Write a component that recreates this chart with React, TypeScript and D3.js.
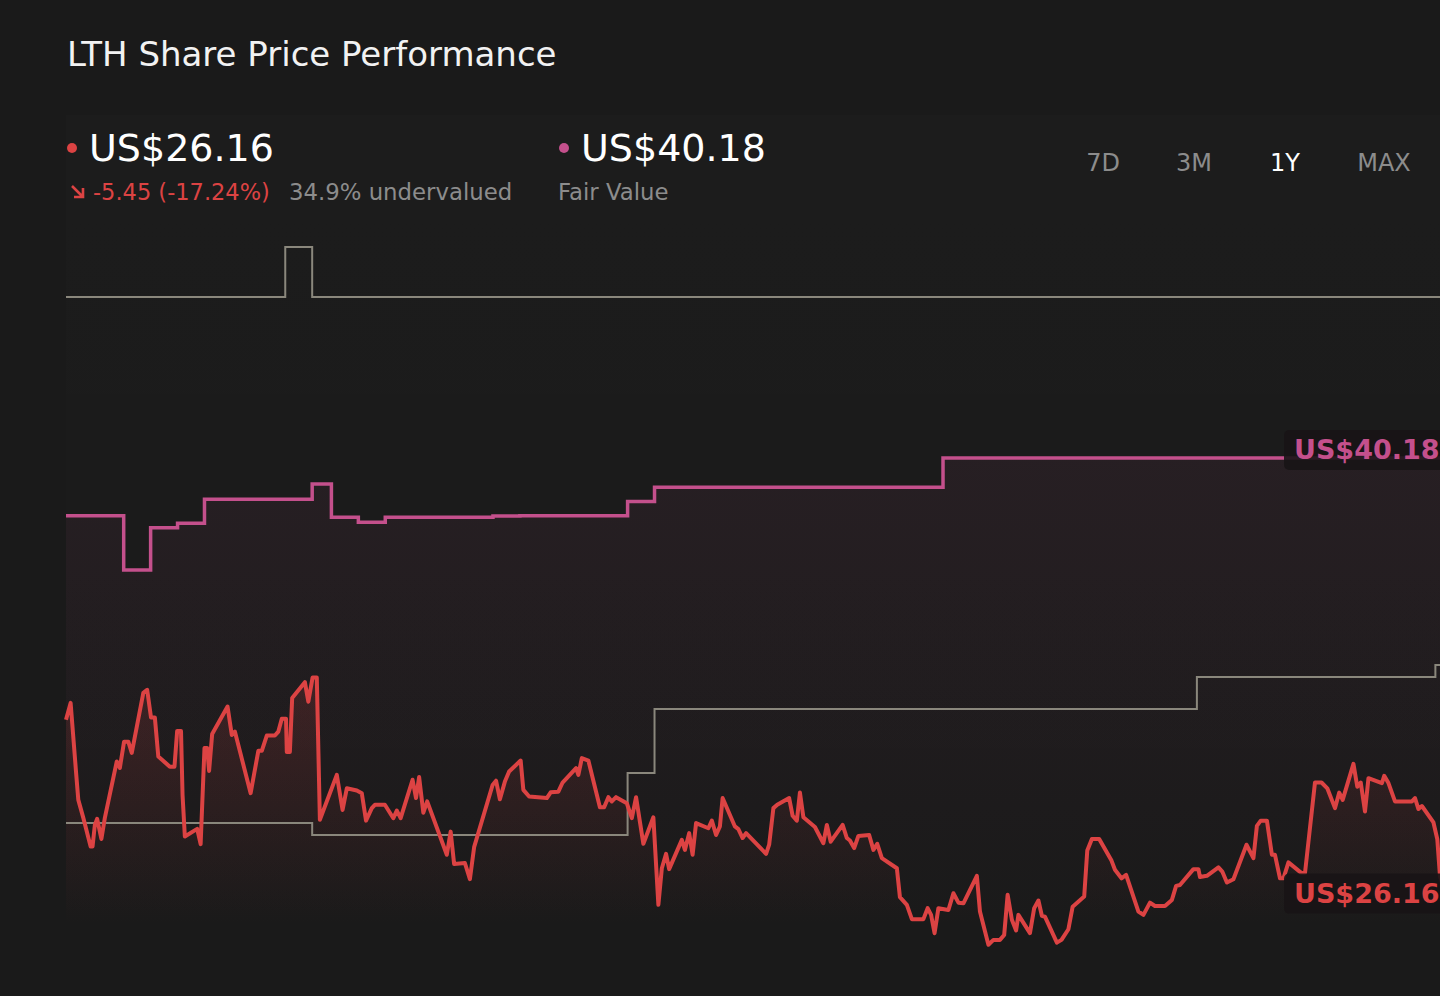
import * as d3 from "d3";

// price history, x in days since start of the 1Y window
const priceDays = [
  0, 1.2, 2.6, 3.2, 4.5, 6.4, 6.9, 7.5, 8.1, 9.2, 10.1, 13.2, 14.0, 15.1, 16.2, 17.1, 20.1, 21.1, 22.1, 23.1,
  24.0, 27.0, 28.2, 28.9, 29.9, 30.3, 30.9, 34.1, 35.0, 36.0, 36.7, 37.2, 38.0, 42.0, 43.1, 43.9, 48.0, 50.0,
  50.9, 52.2, 54.3, 55.2, 56.1, 57.2, 57.4, 58.2, 58.8, 62.1, 63.0, 64.1, 65.2, 66.0, 70.4, 71.9, 73.0, 75.6,
  76.9, 78.0, 79.5, 80.3, 82.9, 85.1, 86.0, 87.0, 90.1, 91.0, 91.8, 92.9, 93.9, 99.0, 100.0, 100.9, 103.7,
  105.0, 106.1, 110.9, 111.8, 112.8, 114.1, 115.2, 118.2, 118.9, 120.4, 125.0, 126.0, 128.0, 129.1, 132.6,
  133.2, 134.1, 135.8, 138.8, 139.9, 141.0, 141.9, 143.0, 145.8, 147.1, 148.2, 150.1, 152.7, 154.0, 154.9,
  156.0, 156.8, 160.1, 160.9, 162.0, 162.9, 163.8, 167.0, 167.9, 169.0, 170.0, 170.7, 173.9, 174.8, 175.9,
  176.8, 182.0, 182.8, 183.9, 184.9, 188.0, 188.9, 190.0, 190.8, 191.7, 194.7, 196.9, 197.8, 198.8, 201.9,
  203.0, 203.8, 204.9, 206.0, 208.8, 209.9, 210.9, 212.1, 216.0, 216.8, 218.6, 219.9, 222.9, 224.0, 224.9,
  225.8, 226.8, 229.4, 230.7, 232.0, 233.3, 236.8, 237.6, 239.8, 241.1, 242.8, 243.9, 244.8, 245.9, 247.0,
  247.6, 250.6, 251.7, 252.8, 253.7, 254.5, 257.6, 258.8, 260.6, 261.7, 264.7, 265.5, 266.7, 268.6, 271.8,
  272.7, 274.4, 275.6, 278.8, 280.1, 281.8, 283.1, 285.7, 287.5, 288.6, 289.6, 293.1, 294.4, 294.8, 296.6,
  299.6, 300.6, 301.8, 303.5, 306.9, 308.7, 309.6, 310.6, 312.2, 313.5, 314.3, 315.6, 316.5, 317.8, 321.2,
  322.1, 324.7, 326.4, 327.9, 329.9, 331.0, 331.9, 334.7, 335.7, 336.6, 337.7, 338.6, 342.1, 342.7, 343.8,
  345.5, 349.9, 350.7, 351.6, 352.5, 355.5, 356.5, 357.2, 358.0,
];
const priceValues = [
  31.6, 32.15, 29.9, 28.97, 28.38, 27.44, 27.44, 28.15, 28.35, 27.69, 28.38, 30.23, 30.02, 30.88, 30.88, 30.51,
  32.48, 32.58, 31.67, 31.67, 30.39, 30.06, 30.06, 31.23, 31.23, 29.13, 27.77, 28.02, 27.52, 30.67, 30.67,
  29.92, 31.13, 32.03, 31.1, 31.21, 29.19, 30.58, 30.58, 31.08, 31.08, 31.21, 31.63, 31.63, 30.54, 30.54,
  32.31, 32.83, 32.19, 32.98, 32.98, 28.32, 29.79, 28.64, 29.35, 29.28, 29.19, 28.29, 28.7, 28.81, 28.81,
  28.37, 28.62, 28.37, 29.63, 29.03, 29.72, 28.55, 28.92, 27.17, 27.93, 26.87, 26.9, 26.37, 27.42, 29.46,
  29.6, 28.99, 29.57, 29.9, 30.26, 29.3, 29.08, 29.03, 29.22, 29.24, 29.54, 30.01, 29.79, 30.34, 30.26,
  28.73, 28.73, 29.06, 28.92, 29.06, 28.86, 28.37, 29.06, 27.53, 28.4, 25.53, 26.73, 27.2, 26.7, 27.66,
  27.33, 27.88, 27.17, 28.21, 28.04, 28.29, 27.82, 28.1, 29.03, 28.1, 28.01, 27.72, 27.88, 27.2, 27.5,
  28.7, 28.81, 29.03, 28.45, 28.29, 29.21, 28.4, 28.08, 27.55, 28.15, 27.6, 28.15, 27.72, 27.64, 27.39,
  27.79, 27.82, 27.33, 27.53, 27.06, 26.73, 25.78, 25.53, 25.06, 25.06, 25.42, 25.2, 24.6, 25.42, 25.36,
  25.91, 25.6, 25.58, 26.48, 25.31, 24.22, 24.38, 24.38, 24.54, 25.86, 25.04, 24.69, 25.2, 24.6, 25.42,
  25.67, 25.17, 25.14, 24.29, 24.38, 24.73, 25.47, 25.8, 27.31, 27.69, 27.69, 26.98, 26.68, 26.4, 26.51,
  25.31, 25.2, 25.6, 25.49, 25.49, 25.69, 26.15, 26.18, 26.7, 26.7, 26.44, 26.48, 26.76, 26.62, 26.26,
  26.37, 27.5, 27.06, 28.12, 28.29, 28.29, 27.17, 27.17, 26.4, 26.4, 26.92, 26.57, 26.57, 29.54, 29.54,
  29.35, 28.7, 29.21, 28.97, 30.15, 29.4, 29.54, 28.59, 29.68, 29.52, 29.76, 29.52, 28.92, 28.92, 29.03,
  28.67, 28.77, 28.23, 27.68, 26.46, 26.16,
];

// fair value estimate (step changes)
const fairDays = [0, 15, 22, 29, 36, 64, 69, 76, 83, 111, 118, 146, 153, 228, 365];
const fairValues = [38.29, 36.51, 37.89, 38.04, 38.83, 39.33, 38.24, 38.07, 38.24, 38.28, 38.29, 38.75, 39.22, 40.18, 40.18];

// grey reference lines
const upperDays = [0, 57, 64, 365];
const upperValues = [45.46, 47.1, 45.46, 45.46];
const lowerDays = [0, 64, 146, 153, 294, 356, 365];
const lowerValues = [28.21, 27.82, 29.85, 31.95, 33.0, 33.39, 33.39];

const periods = ["7D", "3M", "1Y", "MAX"];
const periodCenters = [1103, 1194, 1285, 1384];
const activePeriod = "1Y";

const lastPrice = 26.16;
const fairValue = 40.18;
const change = -5.45;
const changePct = -17.24;
const undervalued = 34.9;

const W = 1440;
const H = 996;
const RED = "#dc4343";
const PINK = "#c4508c";
const GREY = "#8a877c";
const MUTED = "#8c8c8c";
const FONT = "'DejaVu Sans', sans-serif";

type Pt = { d: number; v: number };
const zip = (ds: number[], vs: number[]): Pt[] => ds.map((d, i) => ({ d, v: vs[i] }));

const App = () => {
  const x = d3.scaleLinear().domain([0, 365]).range([66, 1470]);
  const y = d3.scaleLinear().domain([lastPrice, fairValue]).range([885.6, 458]);
  const bottom = 960;

  const price = zip(priceDays, priceValues);
  const fair = zip(fairDays, fairValues);
  const upper = zip(upperDays, upperValues);
  const lower = zip(lowerDays, lowerValues);

  const line = d3.line<Pt>().x((p) => x(p.d)).y((p) => y(p.v));
  const step = d3.line<Pt>().x((p) => x(p.d)).y((p) => y(p.v)).curve(d3.curveStepAfter);
  const area = d3.area<Pt>().x((p) => x(p.d)).y0(bottom).y1((p) => y(p.v));
  const stepArea = d3.area<Pt>().x((p) => x(p.d)).y0(bottom).y1((p) => y(p.v)).curve(d3.curveStepAfter);

  const fmt = (n: number) => n.toFixed(2);

  return (
    <svg width={W} height={H} style={{ position: "absolute", left: 0, top: 0, display: "block" }} fontFamily={FONT}>
      <defs>
        <linearGradient id="panel" gradientUnits="userSpaceOnUse" x1="0" y1="115" x2="0" y2="925">
          <stop offset="0" stopColor="#ffffff" stopOpacity={0.01} />
          <stop offset="1" stopColor="#ffffff" stopOpacity={0} />
        </linearGradient>
        <linearGradient id="redFill" gradientUnits="userSpaceOnUse" x1="0" y1={y(33)} x2="0" y2="925">
          <stop offset="0" stopColor={RED} stopOpacity={0.16} />
          <stop offset="1" stopColor={RED} stopOpacity={0} />
        </linearGradient>
        <linearGradient id="pinkFill" gradientUnits="userSpaceOnUse" x1="0" y1={y(fairValue)} x2="0" y2="925">
          <stop offset="0" stopColor={PINK} stopOpacity={0.07} />
          <stop offset="1" stopColor={PINK} stopOpacity={0} />
        </linearGradient>
      </defs>
      <rect width={W} height={H} fill="#1a1a1a" />
      <rect x={x(0)} y={115} width={W - x(0)} height={810} fill="url(#panel)" />

      <text x={67} y={66} fontSize={34} fill="#f2f2f2">LTH Share Price Performance</text>

      <circle cx={72} cy={148} r={5} fill={RED} />
      <text x={89} y={161} fontSize={38} fill="#ffffff">US${fmt(lastPrice)}</text>
      <path d="M72,186 L83,197 M83,188 L83,197 L74,197" fill="none" stroke={RED} strokeWidth={2.6} />
      <text x={93} y={200} fontSize={22.5} fill={RED}>
        {fmt(change)} ({fmt(changePct)}%)
      </text>
      <text x={289} y={200} fontSize={22.8} fill={MUTED}>{undervalued}% undervalued</text>

      <circle cx={564} cy={148} r={5} fill={PINK} />
      <text x={581} y={161} fontSize={38} fill="#ffffff">US${fmt(fairValue)}</text>
      <text x={558} y={200} fontSize={22.8} fill={MUTED}>Fair Value</text>

      {periods.map((p, i) => (
        <text key={p} x={periodCenters[i]} y={171} fontSize={24} textAnchor="middle" fill={p === activePeriod ? "#ffffff" : MUTED}>
          {p}
        </text>
      ))}

      <path d={stepArea(fair) ?? ""} fill="url(#pinkFill)" />
      <path d={area(price) ?? ""} fill="url(#redFill)" />

      <path d={step(upper) ?? ""} fill="none" stroke={GREY} strokeWidth={2} />
      <path d={step(lower) ?? ""} fill="none" stroke={GREY} strokeWidth={2} />
      <path d={step(fair) ?? ""} fill="none" stroke={PINK} strokeWidth={3.5} />
      <path d={line(price) ?? ""} fill="none" stroke={RED} strokeWidth={4} strokeLinejoin="round" />

      <g>
        <rect x={1284} y={y(fairValue) - 28} width={200} height={40} rx={5} fill="#181416" fillOpacity={0.9} />
        <text x={1294} y={y(fairValue) + 1} fontSize={27} fontWeight="bold" fill={PINK}>US${fmt(fairValue)}</text>
      </g>
      <g>
        <rect x={1284} y={y(lastPrice) - 12} width={200} height={40} rx={5} fill="#181416" fillOpacity={0.9} />
        <text x={1294} y={y(lastPrice) + 17} fontSize={27} fontWeight="bold" fill={RED}>US${fmt(lastPrice)}</text>
      </g>
    </svg>
  );
};

export default App;
